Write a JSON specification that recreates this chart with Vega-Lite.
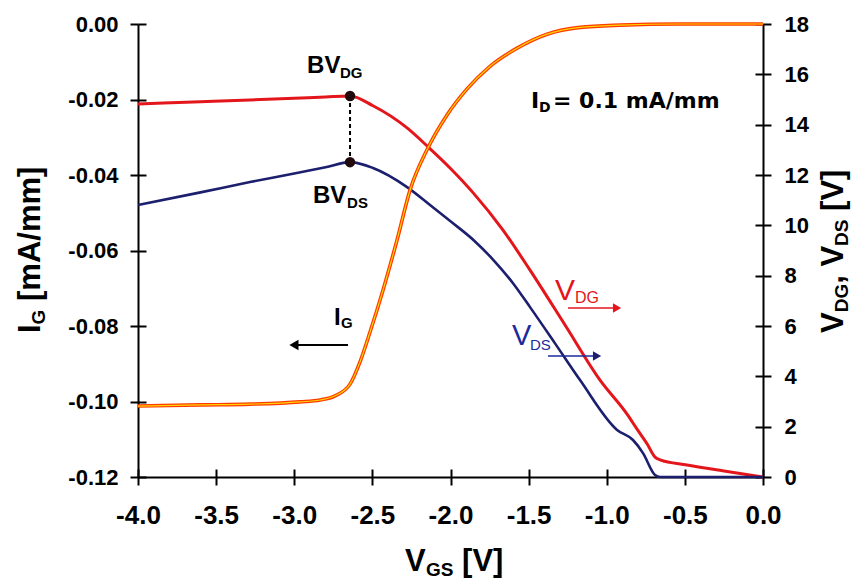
{
  "$schema": "https://vega.github.io/schema/vega-lite/v6.json",
  "width": 625,
  "height": 453,
  "autosize": {"type": "none"},
  "padding": {"left": 138, "top": 24, "right": 89, "bottom": 107},
  "background": "white",
  "config": {
    "view": {"stroke": null},
    "font": "Liberation Sans",
    "locale": {"number": {"decimal": ".", "thousands": ",", "grouping": [3], "currency": ["$", ""], "minus": "-"}}
  },
  "datasets": {
    "ig": [
      {"vgs": -4.0, "ig": -0.1012}, {"vgs": -3.603, "ig": -0.1009}, {"vgs": -3.283, "ig": -0.1007},
      {"vgs": -2.963, "ig": -0.1001}, {"vgs": -2.835, "ig": -0.0996}, {"vgs": -2.739, "ig": -0.0985},
      {"vgs": -2.643, "ig": -0.0954}, {"vgs": -2.579, "ig": -0.0895}, {"vgs": -2.515, "ig": -0.0816},
      {"vgs": -2.432, "ig": -0.0705}, {"vgs": -2.342, "ig": -0.0572}, {"vgs": -2.259, "ig": -0.0440},
      {"vgs": -2.144, "ig": -0.0328}, {"vgs": -2.022, "ig": -0.0241}, {"vgs": -1.894, "ig": -0.0172},
      {"vgs": -1.747, "ig": -0.0112}, {"vgs": -1.574, "ig": -0.0064}, {"vgs": -1.382, "ig": -0.0027},
      {"vgs": -1.171, "ig": -0.0009}, {"vgs": -0.915, "ig": -0.0003}, {"vgs": -0.531, "ig": 0.0},
      {"vgs": 0.0, "ig": 0.0}
    ],
    "vdg": [
      {"vgs": -4.0, "val": 14.82}, {"vgs": -3.6, "val": 14.91}, {"vgs": -3.283, "val": 14.98},
      {"vgs": -3.0, "val": 15.05}, {"vgs": -2.8, "val": 15.10}, {"vgs": -2.643, "val": 15.14},
      {"vgs": -2.496, "val": 14.75}, {"vgs": -2.278, "val": 13.87}, {"vgs": -2.144, "val": 13.12},
      {"vgs": -2.003, "val": 12.28}, {"vgs": -1.856, "val": 11.30}, {"vgs": -1.664, "val": 9.81},
      {"vgs": -1.491, "val": 8.22}, {"vgs": -1.267, "val": 6.04}, {"vgs": -1.043, "val": 3.85},
      {"vgs": -0.870, "val": 2.50}, {"vgs": -0.806, "val": 1.90}, {"vgs": -0.742, "val": 1.32},
      {"vgs": -0.691, "val": 0.79}, {"vgs": -0.659, "val": 0.68}, {"vgs": -0.486, "val": 0.48},
      {"vgs": -0.25, "val": 0.24}, {"vgs": 0.0, "val": 0.0}
    ],
    "vds": [
      {"vgs": -4.0, "val": 10.81}, {"vgs": -3.6, "val": 11.31}, {"vgs": -3.283, "val": 11.72},
      {"vgs": -3.0, "val": 12.06}, {"vgs": -2.8, "val": 12.31}, {"vgs": -2.643, "val": 12.51},
      {"vgs": -2.496, "val": 12.28}, {"vgs": -2.278, "val": 11.52}, {"vgs": -2.131, "val": 10.81},
      {"vgs": -2.0, "val": 10.16}, {"vgs": -1.85, "val": 9.40}, {"vgs": -1.728, "val": 8.64},
      {"vgs": -1.6, "val": 7.70}, {"vgs": -1.491, "val": 6.75}, {"vgs": -1.33, "val": 5.30},
      {"vgs": -1.171, "val": 3.85}, {"vgs": -0.934, "val": 1.87},
      {"vgs": -0.832, "val": 1.47}, {"vgs": -0.768, "val": 0.95}, {"vgs": -0.691, "val": 0.08},
      {"vgs": -0.659, "val": 0.0}, {"vgs": 0.0, "val": 0.0}
    ],
    "dash": [{"vgs": -2.643, "val": 15.14, "val2": 12.51}],
    "dots": [{"vgs": -2.643, "val": 15.14}, {"vgs": -2.643, "val": 12.51}],
    "arrowBlack": [{"vgs": -2.656, "vgs2": -3.002, "val": 5.245}],
    "arrowRed": [{"vgs": -1.248, "vgs2": -0.934, "val": 6.715}],
    "arrowBlue": [{"vgs": -1.376, "vgs2": -1.062, "val": 4.808}],
    "tBig": [
      {"vgs": -2.918, "val": 16.053, "t": "BV"},
      {"vgs": -2.880, "val": 10.887, "t": "BV"},
      {"vgs": -2.746, "val": 6.040, "t": "I"}
    ],
    "tSub": [
      {"vgs": -2.707, "val": 15.854, "t": "DG"},
      {"vgs": -2.662, "val": 10.689, "t": "DS"},
      {"vgs": -2.701, "val": 5.921, "t": "G"}
    ],
    "tId": [
      {"vgs": -1.485, "val": 14.662, "t": "I"},
      {"vgs": -1.344, "val": 14.662, "t": "= 0.1 mA/mm"}
    ],
    "tIdSub": [{"vgs": -1.434, "val": 14.503, "t": "D"}],
    "tRed": [{"vgs": -1.331, "val": 7.033, "t": "V"}],
    "tRedSub": [{"vgs": -1.203, "val": 6.914, "t": "DG"}],
    "tBlue": [{"vgs": -1.606, "val": 5.245, "t": "V"}],
    "tBlueSub": [{"vgs": -1.491, "val": 5.046, "t": "DS"}],
    "tX": [
      {"vgs": -2.291, "val": -3.735, "t": "V"},
      {"vgs": -1.926, "val": -3.735, "t": "[V]"}
    ],
    "tXSub": [{"vgs": -2.157, "val": -3.934, "t": "GS"}],
    "tRot": [
      {"vgs": -4.627, "val": 5.722, "t": "I"},
      {"vgs": -4.627, "val": 6.993, "t": "[mA/mm]"},
      {"vgs": 0.512, "val": 5.722, "t": "V"},
      {"vgs": 0.512, "val": 7.677, "t": ", V"},
      {"vgs": 0.512, "val": 10.573, "t": "[V]"}
    ],
    "tRotSub": [
      {"vgs": -4.595, "val": 6.064, "t": "G"},
      {"vgs": 0.544, "val": 6.544, "t": "DG"},
      {"vgs": 0.544, "val": 9.183, "t": "DS"}
    ]
  },
  "layer": [
    {
      "encoding": {
        "x": {"field": "vgs", "type": "quantitative", "scale": {"domain": [-4, 0], "nice": false, "zero": false}, "axis": null},
        "y": {"field": "val", "type": "quantitative", "scale": {"domain": [0, 18], "nice": false, "zero": false},
          "axis": {"orient": "right", "values": [0, 2, 4, 6, 8, 10, 12, 14, 16, 18], "title": null, "grid": false,
            "domain": true, "domainColor": "black", "domainWidth": 2, "ticks": true, "tickSize": 8, "tickWidth": 2, "tickColor": "black",
            "labelFont": "Liberation Sans", "labelFontSize": 22, "labelFontWeight": "bold", "labelColor": "black", "labelPadding": 13,
            "labelFlush": false, "labelOverlap": false, "labelBound": false}}
      },
      "layer": [
        {"data": {"name": "vdg"}, "mark": {"type": "line", "color": "#e3161c", "strokeWidth": 3, "interpolate": "monotone"}}
      ]
    },
    {
      "encoding": {
        "x": {"field": "vgs", "type": "quantitative", "scale": {"domain": [-4, 0], "nice": false, "zero": false}, "axis": null},
        "y": {"field": "val", "type": "quantitative", "scale": {"domain": [0, 18], "nice": false, "zero": false},
          "axis": {"orient": "right", "values": [0, 2, 4, 6, 8, 10, 12, 14, 16, 18], "title": null, "grid": false,
            "domain": false, "labels": false, "ticks": true, "tickSize": -8, "tickWidth": 2, "tickColor": "black"}}
      },
      "layer": [
        {"data": {"name": "vds"}, "mark": {"type": "line", "color": "#1c1f6e", "strokeWidth": 2.6, "interpolate": "monotone"}},
        {"data": {"name": "dash"}, "mark": {"type": "rule", "color": "black", "strokeWidth": 2, "strokeDash": [4, 3]},
          "encoding": {"y2": {"field": "val2"}}},
        {"data": {"name": "dots"}, "mark": {"type": "point", "filled": true, "size": 110, "color": "#200a0c", "opacity": 1}},
        {"data": {"name": "arrowBlack"}, "mark": {"type": "rule", "color": "black", "strokeWidth": 2},
          "encoding": {"x2": {"field": "vgs2"}}},
        {"data": {"name": "arrowBlack"}, "mark": {"type": "point", "shape": "triangle-left", "filled": true, "size": 110, "color": "black", "opacity": 1},
          "encoding": {"x": {"field": "vgs2", "type": "quantitative"}}},
        {"data": {"name": "arrowRed"}, "mark": {"type": "rule", "color": "#e3161c", "strokeWidth": 1.6},
          "encoding": {"x2": {"field": "vgs2"}}},
        {"data": {"name": "arrowRed"}, "mark": {"type": "point", "shape": "triangle-right", "filled": true, "size": 90, "color": "#e3161c", "opacity": 1},
          "encoding": {"x": {"field": "vgs2", "type": "quantitative"}}},
        {"data": {"name": "arrowBlue"}, "mark": {"type": "rule", "color": "#1c2a9e", "strokeWidth": 1.6},
          "encoding": {"x2": {"field": "vgs2"}}},
        {"data": {"name": "arrowBlue"}, "mark": {"type": "point", "shape": "triangle-right", "filled": true, "size": 90, "color": "#1c1f6e", "opacity": 1},
          "encoding": {"x": {"field": "vgs2", "type": "quantitative"}}},
        {"data": {"name": "tBig"}, "mark": {"type": "text", "align": "left", "baseline": "alphabetic", "font": "Liberation Sans", "fontSize": 24, "fontWeight": "bold", "color": "black"},
          "encoding": {"text": {"field": "t"}}},
        {"data": {"name": "tSub"}, "mark": {"type": "text", "align": "left", "baseline": "alphabetic", "font": "Liberation Sans", "fontSize": 15, "fontWeight": "bold", "color": "black"},
          "encoding": {"text": {"field": "t"}}},
        {"data": {"name": "tId"}, "mark": {"type": "text", "align": "left", "baseline": "alphabetic", "font": "DejaVu Sans", "fontSize": 22, "fontWeight": "bold", "color": "black"},
          "encoding": {"text": {"field": "t"}}},
        {"data": {"name": "tIdSub"}, "mark": {"type": "text", "align": "left", "baseline": "alphabetic", "font": "DejaVu Sans", "fontSize": 14, "fontWeight": "bold", "color": "black"},
          "encoding": {"text": {"field": "t"}}},
        {"data": {"name": "tRed"}, "mark": {"type": "text", "align": "left", "baseline": "alphabetic", "font": "Liberation Sans", "fontSize": 30, "color": "#e3161c"},
          "encoding": {"text": {"field": "t"}}},
        {"data": {"name": "tRedSub"}, "mark": {"type": "text", "align": "left", "baseline": "alphabetic", "font": "Liberation Sans", "fontSize": 16, "color": "#e3161c"},
          "encoding": {"text": {"field": "t"}}},
        {"data": {"name": "tBlue"}, "mark": {"type": "text", "align": "left", "baseline": "alphabetic", "font": "Liberation Sans", "fontSize": 29, "color": "#1c2a9e"},
          "encoding": {"text": {"field": "t"}}},
        {"data": {"name": "tBlueSub"}, "mark": {"type": "text", "align": "left", "baseline": "alphabetic", "font": "Liberation Sans", "fontSize": 15, "color": "#1c2a9e"},
          "encoding": {"text": {"field": "t"}}},
        {"data": {"name": "tX"}, "mark": {"type": "text", "align": "left", "baseline": "alphabetic", "font": "Liberation Sans", "fontSize": 31, "fontWeight": "bold", "color": "black"},
          "encoding": {"text": {"field": "t"}}},
        {"data": {"name": "tXSub"}, "mark": {"type": "text", "align": "left", "baseline": "alphabetic", "font": "Liberation Sans", "fontSize": 19, "fontWeight": "bold", "color": "black"},
          "encoding": {"text": {"field": "t"}}},
        {"data": {"name": "tRot"}, "mark": {"type": "text", "align": "left", "baseline": "alphabetic", "angle": 270, "font": "Liberation Sans", "fontSize": 31, "fontWeight": "bold", "color": "black"},
          "encoding": {"text": {"field": "t"}}},
        {"data": {"name": "tRotSub"}, "mark": {"type": "text", "align": "left", "baseline": "alphabetic", "angle": 270, "font": "Liberation Sans", "fontSize": 19, "fontWeight": "bold", "color": "black"},
          "encoding": {"text": {"field": "t"}}}
      ]
    },
    {
      "data": {"name": "ig"},
      "mark": {"type": "line", "color": "#ff3a00", "strokeWidth": 3.6, "interpolate": "monotone"},
      "encoding": {
        "x": {"field": "vgs", "type": "quantitative", "scale": {"domain": [-4, 0], "nice": false, "zero": false},
          "axis": {"orient": "bottom", "values": [-4, -3.5, -3, -2.5, -2, -1.5, -1, -0.5, 0], "format": ".1f", "title": null, "grid": false,
            "domain": true, "domainColor": "black", "domainWidth": 2, "ticks": true, "tickSize": 8, "tickWidth": 2, "tickColor": "black",
            "labelFont": "Liberation Sans", "labelFontSize": 26, "labelFontWeight": "bold", "labelColor": "black", "labelPadding": 17,
            "labelFlush": false, "labelOverlap": false, "labelBound": false}},
        "y": {"field": "ig", "type": "quantitative", "scale": {"domain": [-0.12, 0], "nice": false, "zero": false},
          "axis": {"orient": "left", "values": [-0.12, -0.1, -0.08, -0.06, -0.04, -0.02, 0], "format": ".2f", "title": null, "grid": false,
            "domain": true, "domainColor": "black", "domainWidth": 2, "ticks": true, "tickSize": 8, "tickWidth": 2, "tickColor": "black",
            "labelFont": "Liberation Sans", "labelFontSize": 22, "labelFontWeight": "bold", "labelColor": "black", "labelPadding": 12,
            "labelFlush": false, "labelOverlap": false, "labelBound": false}}
      }
    },
    {
      "data": {"name": "ig"},
      "mark": {"type": "line", "color": "#ffd400", "strokeWidth": 1.2, "interpolate": "monotone"},
      "encoding": {
        "x": {"field": "vgs", "type": "quantitative", "scale": {"domain": [-4, 0], "nice": false, "zero": false},
          "axis": {"orient": "bottom", "values": [-4, -3.5, -3, -2.5, -2, -1.5, -1, -0.5, 0], "title": null, "grid": false,
            "domain": false, "labels": false, "ticks": true, "tickSize": -8, "tickWidth": 2, "tickColor": "black"}},
        "y": {"field": "ig", "type": "quantitative", "scale": {"domain": [-0.12, 0], "nice": false, "zero": false},
          "axis": {"orient": "left", "values": [-0.12, -0.1, -0.08, -0.06, -0.04, -0.02, 0], "title": null, "grid": false,
            "domain": false, "labels": false, "ticks": true, "tickSize": -8, "tickWidth": 2, "tickColor": "black"}}
      }
    }
  ],
  "resolve": {"scale": {"y": "independent"}, "axis": {"x": "independent", "y": "independent"}}
}
